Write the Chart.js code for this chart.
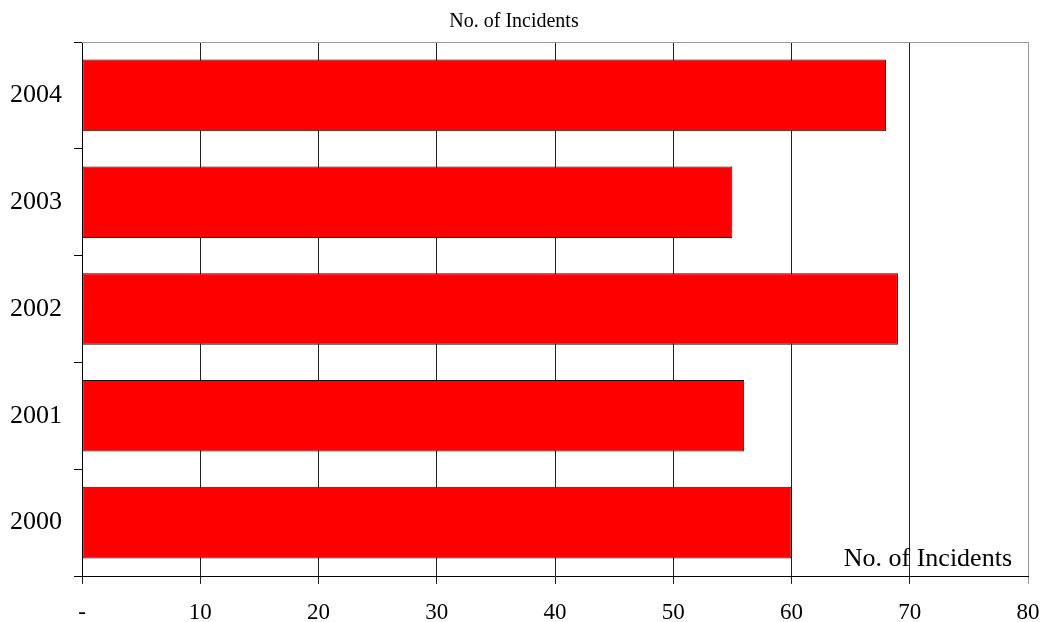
<!DOCTYPE html>
<html>
<head>
<meta charset="utf-8">
<title>No. of Incidents</title>
<script src="https://cdn.jsdelivr.net/npm/chart.js@4/dist/chart.umd.min.js"></script>
<style>
  html, body { margin: 0; padding: 0; background: #fff; }
  #wrap { width: 1045px; height: 622px; }
</style>
</head>
<body>
<div id="wrap"><canvas id="incidents"></canvas></div>
<script>
// yearly incident counts, top row first
const years = ['2004', '2003', '2002', '2001', '2000'];
const incidents = [68, 55, 69, 56, 60];
const xTicks = [0, 10, 20, 30, 40, 50, 60, 70, 80];

const serif = '"Liberation Serif", "Times New Roman", serif';

// grey frame on top and right, plus the series name inside the plot
const framePlugin = {
  id: 'frame',
  beforeDatasetsDraw(chart) {
    const { ctx, chartArea: a } = chart;
    ctx.save();
    ctx.strokeStyle = '#999';
    ctx.lineWidth = 1;
    ctx.beginPath();
    ctx.moveTo(a.left, a.top + 0.5);
    ctx.lineTo(a.right + 0.5, a.top + 0.5);
    ctx.lineTo(a.right + 0.5, a.bottom);
    ctx.stroke();
    ctx.restore();
  },
  afterDatasetsDraw(chart) {
    const { ctx, chartArea: a } = chart;
    ctx.save();
    ctx.font = '26px ' + serif;
    ctx.fillStyle = '#000';
    ctx.textAlign = 'right';
    ctx.textBaseline = 'alphabetic';
    ctx.fillText('No. of Incidents', a.right - 16, a.bottom - 10);
    ctx.restore();
  }
};

new Chart(document.getElementById('incidents'), {
  type: 'bar',
  data: {
    labels: years,
    datasets: [{
      label: 'No. of Incidents',
      data: incidents,
      backgroundColor: '#ff0000',
      borderColor: '#111',
      borderWidth: 1,
      borderSkipped: false,
      barPercentage: 0.67,
      categoryPercentage: 1
    }]
  },
  options: {
    indexAxis: 'y',
    responsive: true,
    maintainAspectRatio: false,
    animation: false,
    layout: { padding: { left: 0, right: 17, top: 0, bottom: 0 } },
    plugins: {
      legend: { display: false },
      tooltip: { enabled: false },
      title: {
        display: true,
        text: 'No. of Incidents',
        color: '#000',
        font: { family: serif, size: 20, weight: 'normal' },
        padding: { top: 10, bottom: 8 }
      }
    },
    scales: {
      x: {
        min: 0,
        max: 80,
        afterBuildTicks: (scale) => { scale.ticks = xTicks.map(v => ({ value: v })); },
        afterFit: (scale) => {
          scale.height = 46;
          scale.paddingLeft = 0;
          scale.paddingRight = 0;
        },
        ticks: {
          color: '#000',
          font: { family: serif, size: 23 },
          padding: 15,
          maxRotation: 0,
          callback: (v) => v === 0 ? '-' : v
        },
        grid: {
          color: (c) => c.tick && c.tick.value === 80 ? '#999' : '#222',
          lineWidth: 1,
          tickLength: 8
        },
        border: { color: '#000', width: 1 }
      },
      y: {
        afterFit: (scale) => { scale.width = 82; },
        ticks: {
          color: '#000',
          font: { family: serif, size: 26 },
          padding: 12
        },
        grid: {
          offset: true,
          drawOnChartArea: false,
          color: '#000',
          tickLength: 8
        },
        border: { color: '#000', width: 1 }
      }
    }
  },
  plugins: [framePlugin]
});
</script>
</body>
</html>
